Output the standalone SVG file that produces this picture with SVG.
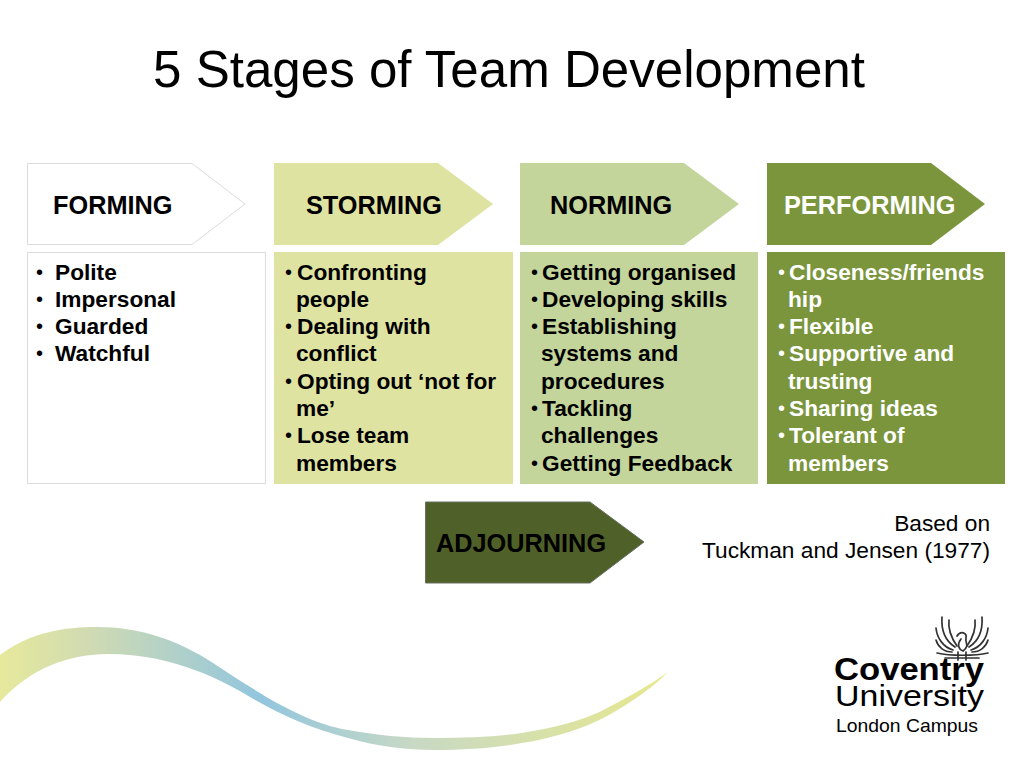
<svg xmlns="http://www.w3.org/2000/svg" width="1024" height="768" viewBox="0 0 1024 768">
<style>
text{font-family:"Liberation Sans",Arial,sans-serif;fill:#000}
.h{font-size:25.3px;font-weight:bold}
.b{font-size:22.7px;font-weight:bold}
.d{font-size:20px}
.w{fill:#fff}
.r{font-size:22.7px;text-anchor:end}
</style>
<defs>
<linearGradient id="sw" gradientUnits="userSpaceOnUse" x1="0" y1="0" x2="668" y2="0">
<stop offset="0" stop-color="#e6e99c"/><stop offset=".12" stop-color="#d3dcb0"/><stop offset=".39" stop-color="#92c6de"/><stop offset=".62" stop-color="#c8d9c4"/><stop offset="1" stop-color="#e6e88e"/>
</linearGradient>
</defs>
<rect width="1024" height="768" fill="#fff"/>
<text id="title" x="509" y="87" font-size="51.100" text-anchor="middle">5 Stages of Team Development</text>
<g id="swoosh"><path d="M0 655C30 632 65 627 97 627C140 627 178 640 213 663C250 687 300 722 348 730C375 735 405 738 435 738C465 738 495 737 522 733C560 727 590 718 609 707C630 696 650 685 668 672C650 690 630 703 609 715C585 728 555 738 522 743C495 748 465 750 435 750C405 750 375 746 348 738C310 728 280 715 250 697C225 682 175 654 108 654C70 654 30 668 0 702Z" fill="url(#sw)"/></g>
<g id="forming"><path d="M27.500 163.500H192L245 204L192 244.500H27.500Z" fill="#fff" stroke="#dcdcdc"/><text class="h" x="53" y="214">FORMING</text></g>
<g id="storming"><path d="M274 163H438L493 204L438 245H274Z" fill="#dfe3a2"/><text class="h" x="306" y="214">STORMING</text></g>
<g id="norming"><path d="M520 163H684L739 204L684 245H520Z" fill="#c3d59b"/><text class="h" x="550" y="214">NORMING</text></g>
<g id="performing"><path d="M767 163H931L985 204L931 245H767Z" fill="#7a953b"/><text class="h w" x="784" y="214">PERFORMING</text></g>
<g id="adjourning"><path d="M425.500 502H590L644 542L590 583H425.500Z" fill="#4f6128" stroke="#6a7060"/><text class="h" x="436" y="552">ADJOURNING</text></g>
<g id="forming-list"><rect x="27.500" y="252.500" width="238" height="231" fill="#fff" stroke="#dcdcdc"/>
<text class="d" x="36" y="279">•</text><text class="b" x="55" y="280">Polite</text>
<text class="d" x="36" y="306">•</text><text class="b" x="55" y="307">Impersonal</text>
<text class="d" x="36" y="333">•</text><text class="b" x="55" y="334">Guarded</text>
<text class="d" x="36" y="360">•</text><text class="b" x="55" y="361">Watchful</text></g>
<g id="storming-list"><rect x="274" y="252" width="239" height="232" fill="#dfe3a2"/>
<text class="d" x="285" y="279">•</text><text class="b" x="297" y="280">Confronting</text>
<text class="b" x="296" y="307">people</text>
<text class="d" x="285" y="333">•</text><text class="b" x="297" y="334">Dealing with</text>
<text class="b" x="296" y="361">conflict</text>
<text class="d" x="285" y="388">•</text><text class="b" x="297" y="389">Opting out ‘not for</text>
<text class="b" x="296" y="416">me’</text>
<text class="d" x="285" y="442">•</text><text class="b" x="297" y="443">Lose team</text>
<text class="b" x="296" y="471">members</text></g>
<g id="norming-list"><rect x="520" y="252" width="238" height="232" fill="#c3d59b"/>
<text class="d" x="531" y="279">•</text><text class="b" x="542" y="280">Getting organised</text>
<text class="d" x="531" y="306">•</text><text class="b" x="542" y="307">Developing skills</text>
<text class="d" x="531" y="333">•</text><text class="b" x="542" y="334">Establishing</text>
<text class="b" x="541" y="361">systems and</text>
<text class="b" x="541" y="389">procedures</text>
<text class="d" x="531" y="415">•</text><text class="b" x="542" y="416">Tackling</text>
<text class="b" x="541" y="443">challenges</text>
<text class="d" x="531" y="470">•</text><text class="b" x="542" y="471">Getting Feedback</text></g>
<g id="performing-list"><rect x="767" y="252" width="238" height="232" fill="#7a953b"/>
<text class="d w" x="778" y="279">•</text><text class="b w" x="789" y="280">Closeness/friends</text>
<text class="b w" x="788" y="307">hip</text>
<text class="d w" x="778" y="333">•</text><text class="b w" x="789" y="334">Flexible</text>
<text class="d w" x="778" y="360">•</text><text class="b w" x="789" y="361">Supportive and</text>
<text class="b w" x="788" y="389">trusting</text>
<text class="d w" x="778" y="415">•</text><text class="b w" x="789" y="416">Sharing ideas</text>
<text class="d w" x="778" y="442">•</text><text class="b w" x="789" y="443">Tolerant of</text>
<text class="b w" x="788" y="471">members</text></g>
<g id="citation"><text class="r" x="990" y="531">Based on</text><text class="r" x="990" y="558">Tuckman and Jensen (1977)</text></g>
<g id="logo">
<g fill="none" stroke="#333" stroke-width="1.700" stroke-linecap="round">
<path d="M955 647C947 642 941 632 942 617M957 646C950 636 948 628 949 620M953 650C943 647 937 638 936 628M952 652C944 652 938 647 936 640"/>
<path d="M969 647C977 642 983 632 982 617M967 646C974 636 976 628 975 620M971 650C981 647 987 638 988 628M972 652C980 652 986 647 988 640"/>
<path d="M957 636C961 630 967 633 966 638C965 643 970 646 963 651C958 649 957 644 961 639"/>
<path d="M937 653C950 656 975 656 988 653M945 658H979M958 652V660M966 652V660"/>
</g>
<text x="834" y="680" font-size="32" font-weight="bold" textLength="150" lengthAdjust="spacingAndGlyphs" fill="#222">Coventry</text>
<text x="835" y="706" font-size="30" textLength="149" lengthAdjust="spacingAndGlyphs" fill="#333">University</text>
<text x="836" y="732" font-size="18.500" textLength="142" lengthAdjust="spacingAndGlyphs" fill="#444">London Campus</text>
</g>
</svg>
